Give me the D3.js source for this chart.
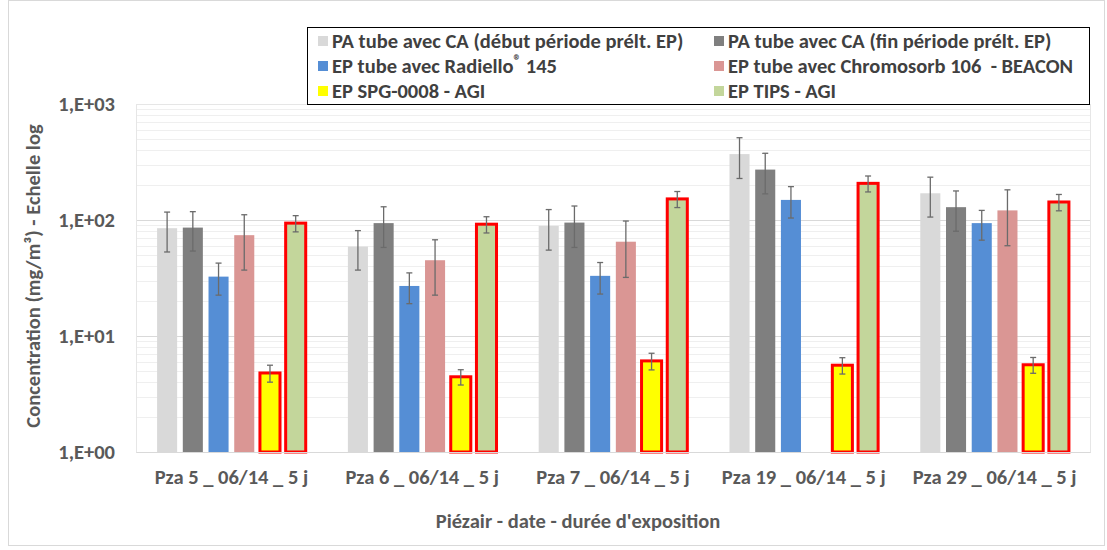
<!DOCTYPE html>
<html>
<head>
<meta charset="utf-8">
<script src="https://cdn.jsdelivr.net/npm/d3@7"></script>
<style>
  body { margin: 0; background: #fff; }
  svg text { font-family: Carlito, Calibri, Lato, sans-serif; font-weight: bold; white-space: pre; }
</style>
</head>
<body>
<svg id="chart" width="1107" height="550"></svg>
<script>
// categories on the x axis
const categories = ["Pza 5 _ 06/14 _ 5 j", "Pza 6 _ 06/14 _ 5 j", "Pza 7 _ 06/14 _ 5 j",
                    "Pza 19 _ 06/14 _ 5 j", "Pza 29 _ 06/14 _ 5 j"];

// series names (legend order)
const seriesNames = ["PA tube avec CA (début période prélt. EP)", "PA tube avec CA (fin période prélt. EP)",
                     "EP tube avec Radiello® 145", "EP tube avec Chromosorb 106  - BEACON",
                     "EP SPG-0008 - AGI", "EP TIPS - AGI"];

// concentrations (mg/m3), one value per category
const paDebut   = [85, 59, 89, 370, 170];
const paFin     = [86, 94, 95, 272, 129];
const radiello  = [32.5, 27, 33, 149, 94];
const chromo    = [74, 45, 65, null, 121];
const spg       = [4.8, 4.45, 6.1, 5.6, 5.65];
const tips      = [94, 92, 152, 207, 143];

// error bars (+/- absolute)
const paDebutErr  = [32, 22, 34, 142, 64];
const paFinErr    = [32, 36, 37, 104, 49];
const radielloErr = [10, 8, 10, 45, 27];
const chromoErr   = [37, 22.5, 33, null, 61];
const spgErr      = [0.8, 0.67, 1.0, 0.9, 0.88];
const tipsErr     = [15, 14.7, 24, 32.5, 23];

const yTicks = [1, 10, 100, 1000];

const colors = ["#D9D9D9", "#7F7F7F", "#558ED5", "#DA9694", "#FFFF00", "#C3D69B"];
const outlined = [false, false, false, false, true, true];

const values = [paDebut, paFin, radiello, chromo, spg, tips];
const errors = [paDebutErr, paFinErr, radielloErr, chromoErr, spgErr, tipsErr];

const fontSize = "20.5px";

const svg = d3.select("#chart");
const margin = {left: 136, right: 1090, top: 104, bottom: 452};

// chart area border
svg.append("rect")
    .attr("x", 8.5).attr("y", 0.5)
    .attr("width", 1096).attr("height", 545)
    .attr("fill", "none").attr("stroke", "#d9d9d9");

const x0 = d3.scaleBand().domain(categories).range([margin.left, margin.right]);
const x1 = d3.scaleBand().domain(d3.range(seriesNames.length))
    .range([0, x0.bandwidth()])
    .paddingInner(0.22).paddingOuter(0.82);
const y = d3.scaleLog().domain([1, 1000]).range([margin.bottom, margin.top]);

// minor gridlines
const minor = [];
for (let d = 1; d < 1000; d *= 10)
    for (let k = 2; k <= 9; k++) minor.push(d * k);
svg.append("g").selectAll("line").data(minor).join("line")
    .attr("x1", margin.left).attr("x2", margin.right)
    .attr("y1", d => Math.round(y(d)) + 0.5).attr("y2", d => Math.round(y(d)) + 0.5)
    .attr("stroke", "#efefef").attr("stroke-width", 1);

// major gridlines
svg.append("g").selectAll("line").data(yTicks).join("line")
    .attr("x1", margin.left).attr("x2", margin.right)
    .attr("y1", d => Math.round(y(d)) + 0.5).attr("y2", d => Math.round(y(d)) + 0.5)
    .attr("stroke", "#d9d9d9").attr("stroke-width", 1);

// plot area border (light)
svg.append("rect")
    .attr("x", margin.left + 0.5).attr("y", margin.top + 0.5)
    .attr("width", margin.right - margin.left).attr("height", margin.bottom - margin.top)
    .attr("fill", "none").attr("stroke", "#e6e6e6");

// bars
const barData = [];
values.forEach((vals, s) => vals.forEach((v, i) => {
    if (v != null) barData.push({s: s, cat: categories[i], v: v, e: errors[s][i]});
}));

const bars = svg.append("g");
bars.selectAll("rect").data(barData).join("rect")
    .attr("x", d => x0(d.cat) + x1(d.s))
    .attr("width", x1.bandwidth())
    .attr("y", d => y(d.v))
    .attr("height", d => y(1) - y(d.v))
    .attr("fill", d => colors[d.s])
    .attr("stroke", d => outlined[d.s] ? "#FF0000" : "none")
    .attr("stroke-width", 3);

// error bars
const eb = svg.append("g").attr("stroke", "#6b6b6b").attr("stroke-width", 1.3);
barData.forEach(d => {
    const cx = x0(d.cat) + x1(d.s) + x1.bandwidth() / 2;
    const y1 = y(d.v + d.e), y2 = y(d.v - d.e);
    eb.append("line").attr("x1", cx).attr("x2", cx).attr("y1", y1).attr("y2", y2);
    eb.append("line").attr("x1", cx - 3).attr("x2", cx + 3).attr("y1", y1).attr("y2", y1);
    eb.append("line").attr("x1", cx - 3).attr("x2", cx + 3).attr("y1", y2).attr("y2", y2);
});

// y axis
const yAxis = d3.axisLeft(y).tickValues(yTicks).tickSize(0).tickPadding(21)
    .tickFormat(d => "1,E+" + String(Math.round(Math.log10(d))).padStart(2, "0"));
svg.append("g").attr("transform", "translate(" + margin.left + ",0)")
    .call(yAxis)
    .call(g => g.select(".domain").remove())
    .selectAll("text")
    .style("font-size", fontSize).attr("fill", "#595959");

// x axis
const xAxis = d3.axisBottom(x0).tickSize(0).tickPadding(17);
svg.append("g").attr("transform", "translate(0," + margin.bottom + ")")
    .call(xAxis)
    .call(g => g.select(".domain").attr("stroke", "#d9d9d9"))
    .selectAll("text")
    .style("font-size", fontSize).attr("fill", "#595959");

// axis titles
svg.append("text")
    .attr("x", 578).attr("y", 528)
    .attr("text-anchor", "middle")
    .style("font-size", fontSize).attr("fill", "#595959")
    .text("Piézair - date - durée d'exposition");

svg.append("text")
    .attr("transform", "translate(40,276) rotate(-90)")
    .attr("text-anchor", "middle")
    .style("font-size", fontSize).attr("fill", "#595959")
    .text("Concentration (mg/m³) - Echelle log");

// legend
const legend = svg.append("g");
legend.append("rect")
    .attr("x", 307.5).attr("y", 27.5).attr("width", 782).attr("height", 77)
    .attr("fill", "#fff").attr("stroke", "#000");

const legItems = legend.selectAll("g.item").data(seriesNames).join("g")
    .attr("class", "item")
    .attr("transform", (d, i) => "translate(" + (i % 2 ? 714 : 318) + "," + (41 + Math.floor(i / 2) * 25) + ")");
legItems.append("rect")
    .attr("x", 0).attr("y", -5).attr("width", 10).attr("height", 10)
    .attr("fill", (d, i) => colors[i]);
legItems.append("text")
    .attr("x", 14).attr("y", 7)
    .style("font-size", fontSize).attr("fill", "#404040")
    .each(function(d) {
        const t = d3.select(this);
        const parts = d.split("®");
        t.append("tspan").text(parts[0]);
        if (parts.length > 1) {
            t.append("tspan").attr("dy", -7).style("font-size", "15px").text("®");
            t.append("tspan").attr("dy", 7).text(parts[1]);
        }
    });
</script>
</body>
</html>
